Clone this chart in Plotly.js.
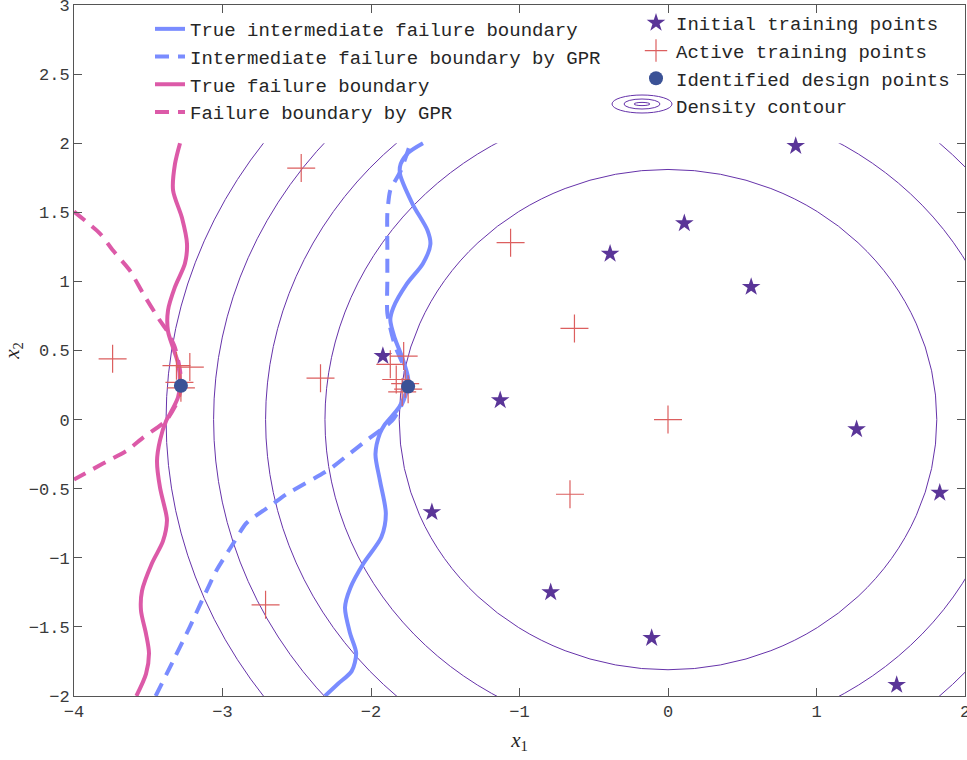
<!DOCTYPE html>
<html>
<head>
<meta charset="utf-8">
<script src="https://cdn.plot.ly/plotly-3.0.1.min.js"></script>
<style>html,body{margin:0;padding:0;background:#fff;}#chart{width:967px;height:760px;}</style>
</head>
<body>
<div id="chart"></div>
<script>
// ---- data ----
const trueInterX = [-2.31,-2.22,-2.13,-2.10,-2.14,-2.175,-2.14,-2.05,-1.93,-1.90,-1.94,-1.97,-1.94,-1.91,-1.81,-1.76,-1.75,-1.79,-1.84,-1.87,-1.85,-1.76,-1.65,-1.60,-1.62,-1.72,-1.805,-1.80,-1.75,-1.65];
const trueInterY = [-2.00,-1.91,-1.82,-1.69,-1.55,-1.36,-1.22,-1.04,-0.85,-0.68,-0.44,-0.25,-0.10,-0.04,0.09,0.21,0.30,0.45,0.59,0.72,0.81,0.98,1.13,1.27,1.37,1.56,1.78,1.85,1.93,2.00];

const gprInterX = [-3.45,-3.33,-3.22,-3.13,-3.04,-2.93,-2.84,-2.66,-2.57,-2.28,-2.16,-2.03,-1.86,-1.80,-1.75,-1.77,-1.84,-1.89,-1.89,-1.89,-1.89,-1.87,-1.80,-1.74];
const gprInterY = [-2.00,-1.74,-1.50,-1.29,-1.09,-0.90,-0.75,-0.61,-0.54,-0.36,-0.26,-0.15,-0.01,0.09,0.24,0.36,0.54,0.77,1.01,1.25,1.49,1.66,1.80,1.98];

const trueFailX = [-3.58,-3.515,-3.495,-3.515,-3.549,-3.542,-3.475,-3.401,-3.374,-3.380,-3.421,-3.441,-3.421,-3.380,-3.354,-3.300,-3.286,-3.300,-3.333,-3.367,-3.367,-3.320,-3.253,-3.239,-3.273,-3.333,-3.320,-3.286];
const trueFailY = [-2.00,-1.84,-1.69,-1.55,-1.38,-1.24,-1.04,-0.88,-0.73,-0.68,-0.49,-0.30,-0.15,-0.01,0.04,0.16,0.26,0.41,0.52,0.64,0.79,0.96,1.13,1.27,1.46,1.66,1.85,2.00];

const gprFailX = [-4.00,-3.825,-3.737,-3.623,-3.535,-3.421,-3.374,-3.320,-3.286,-3.279,-3.300,-3.380,-3.535,-3.643,-3.805,-4.00];
const gprFailY = [1.505,1.346,1.223,1.078,0.912,0.716,0.644,0.521,0.355,0.246,0.137,-0.007,-0.130,-0.224,-0.318,-0.434];

const initX = [-1.92,-1.59,-1.13,-0.79,-0.39,-0.11,0.11,0.56,0.86,1.27,1.54,1.83];
const initY = [0.46,-0.67,0.14,-1.25,1.20,-1.58,1.42,0.96,1.98,-0.07,-1.92,-0.53];

const activeX = [-3.74,-2.47,-1.06,-0.63,0.00,-0.66,-2.34,-2.71,-3.31,-3.22,-3.29,-3.28,-1.78,-1.87,-1.83,-1.77,-1.75,-1.79];
const activeY = [0.44,1.82,1.28,0.66,0.00,-0.54,0.30,-1.34,0.39,0.38,0.27,0.23,0.46,0.40,0.29,0.26,0.22,0.20];

const designX = [-3.28,-1.75];
const designY = [0.245,0.24];

const contourRadii = [1.81, 2.31, 2.71, 3.06, 3.38];

const xTicks = [-4,-3,-2,-1,0,1,2];
const yTicks = [-2,-1.5,-1,-0.5,0,0.5,1,1.5,2,2.5,3];

// ---- styling ----
const BLUE = '#7a8cff', MAG = '#dc5aa8', PURP = '#6633aa', RED = 'rgb(220,95,95)';
const FONT = 'Liberation Mono, Courier New, monospace';
const DASH = '14px,9px';
const LEGFONT = 19;

const traces = [
  {x: trueInterX, y: trueInterY, mode:'lines', name:'True intermediate failure boundary',
   line:{color:BLUE, width:4, shape:'spline', smoothing:0.8}, legend:'legend'},
  {x: gprInterX, y: gprInterY, mode:'lines', name:'Intermediate failure boundary by GPR',
   line:{color:BLUE, width:4, dash:DASH, shape:'spline', smoothing:0.6}, legend:'legend'},
  {x: trueFailX, y: trueFailY, mode:'lines', name:'True failure boundary',
   line:{color:MAG, width:4, shape:'spline', smoothing:0.8}, legend:'legend'},
  {x: gprFailX, y: gprFailY, mode:'lines', name:'Failure boundary by GPR',
   line:{color:MAG, width:4, dash:DASH, shape:'spline', smoothing:0.6}, legend:'legend'},
  {x: initX, y: initY, mode:'markers', name:'Initial training points',
   marker:{symbol:'star', size:14, color:'#5a3598', line:{width:0}}, legend:'legend2'},
  {x: activeX, y: activeY, mode:'markers', name:'Active training points',
   marker:{symbol:'cross-thin-open', size:20, color:RED, line:{width:1.2, color:RED}}, legend:'legend2'},
  {x: designX, y: designY, mode:'markers', name:'Identified design points',
   marker:{symbol:'circle', size:14, color:'#3b5296'}, legend:'legend2'},
  {x:[null], y:[null], mode:'markers', name:'Density contour',
   marker:{symbol:'circle', size:10, color:'rgba(0,0,0,0)'}, legend:'legend2'}
];

const L = 74, R = 965, T = 5, B = 696;
const px2paperX = p => (p - L) / (R - L);
const px2paperY = p => (B - p) / (B - T);

const shapes = contourRadii.map(r => ({
  type:'circle', xref:'x', yref:'y', x0:-r, x1:r, y0:-r, y1:r,
  line:{color:PURP, width:1}, layer:'below'
}));
// contours only cover the x2 <= 2 window
shapes.push({type:'rect', xref:'x', yref:'y', x0:-4, x1:2, y0:2, y1:3,
  fillcolor:'#ffffff', line:{width:0}, layer:'below'});
// legend icon for the density contour (concentric ellipses)
[[30,9],[18,5],[8,1.6]].forEach(([hw,hh]) => {
  shapes.push({type:'circle', xref:'paper', yref:'paper',
    x0:px2paperX(642-hw), x1:px2paperX(642+hw), y0:px2paperY(104+hh), y1:px2paperY(104-hh),
    line:{color:PURP, width:1}});
});

const axisCommon = {
  showgrid:false, zeroline:false, showline:true, linecolor:'#555', linewidth:1,
  mirror:'ticks', ticks:'inside', ticklen:8, tickcolor:'#555',
  ticklabeloverflow:'allow',
  tickfont:{family:FONT, size:17, color:'#3a3a3a'}
};

const layout = {
  width:967, height:760,
  margin:{l:L, r:967-R, t:T, b:760-B, pad:0},
  paper_bgcolor:'#fff', plot_bgcolor:'#fff',
  font:{family:FONT},
  xaxis: Object.assign({}, axisCommon, {range:[-4,2], tickmode:'array', tickvals:xTicks,
    title:{text:'<i>x</i><sub>1</sub>', font:{family:'Liberation Serif, DejaVu Serif, serif', size:21, color:'#262626'}, standoff:10}}),
  yaxis: Object.assign({}, axisCommon, {range:[-2,3], tickmode:'array', tickvals:yTicks,
    title:{text:'<i>x</i><sub>2</sub>', font:{family:'Liberation Serif, DejaVu Serif, serif', size:21, color:'#262626'}, standoff:8}}),
  legend:{x:px2paperX(150), y:px2paperY(10), xanchor:'left', yanchor:'top',
    bgcolor:'rgba(0,0,0,0)', borderwidth:0, font:{family:FONT, size:LEGFONT, color:'#262626'},
    tracegroupgap:0, itemwidth:30},
  legend2:{x:px2paperX(636), y:px2paperY(4), xanchor:'left', yanchor:'top',
    bgcolor:'rgba(0,0,0,0)', borderwidth:0, font:{family:FONT, size:LEGFONT, color:'#262626'},
    tracegroupgap:0, itemwidth:30},
  showlegend:true,
  shapes: shapes
};

Plotly.newPlot('chart', traces, layout, {displayModeBar:false, staticPlot:true});
</script>
</body>
</html>
